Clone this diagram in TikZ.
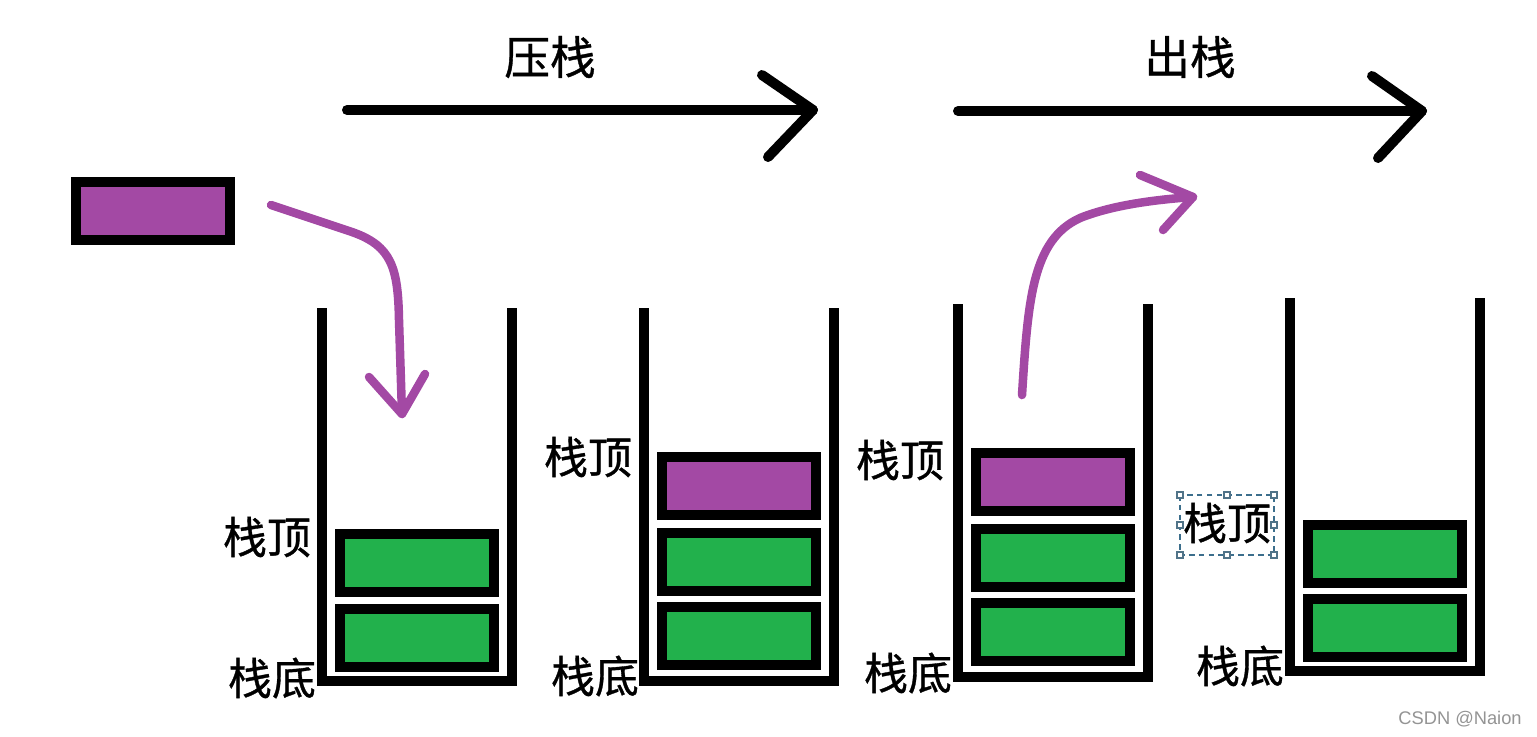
\documentclass[tikz,border=0pt]{standalone}
\usepackage{fontspec}
\newfontfamily\cjk[FakeBold=0.8]{Noto Sans CJK SC}
\setsansfont{Liberation Sans}
\definecolor{ppurple}{HTML}{A349A4}
\definecolor{pgreen}{HTML}{22B14C}
\definecolor{selblue}{HTML}{3C6E8C}
\begin{document}
\begin{tikzpicture}[x=0.01cm,y=-0.01cm,
  cell/.style={draw=black,line width=1mm,minimum width=1.54cm,minimum height=0.58cm,inner sep=0pt},
  gcell/.style={cell,fill=pgreen},
  pcell/.style={cell,fill=ppurple},
  container/.style={draw=black,line width=1mm,line join=miter},
  lbl/.style={inner sep=0pt,font=\cjk\fontsize{12.5}{14}\selectfont},
  title/.style={inner sep=0pt,font=\cjk\fontsize{13}{15}\selectfont},
  bigarrow/.style={draw=black,line width=1mm,line cap=round,line join=round},
  parrow/.style={draw=ppurple,line width=0.85mm,line cap=round,line join=round},
  handle/.style={draw=selblue!70!gray,fill=white,line width=0.3pt,minimum size=0.06cm,inner sep=0pt},
]
\useasboundingbox (0,0) rectangle (1537,736);
\fill[white] (0,0) rectangle (1537,736);

% top arrows
\coordinate (pushS) at (347,110);
\coordinate (pushE) at (813,110);
\coordinate (pushU) at (762,75);
\coordinate (pushL) at (768,157);
\draw[bigarrow] (pushS) -- (pushE);
\draw[bigarrow] (pushU) -- (pushE) -- (pushL);
\node[title] (tpush) at (550,57) {压栈};

\coordinate (popS) at (958,111);
\coordinate (popE) at (1422,111);
\coordinate (popU) at (1372,76);
\coordinate (popL) at (1378,158);
\draw[bigarrow] (popS) -- (popE);
\draw[bigarrow] (popU) -- (popE) -- (popL);
\node[title] (tpop) at (1190,57) {出栈};

% incoming element
\node[pcell] (newel) at (153,211) {};

% stack 1
\draw[container] (322,308) -- (322,681) -- (512,681) -- (512,308);
\node[gcell] (s1a) at (417,563) {};
\node[gcell] (s1b) at (417,638) {};
\node[lbl] (s1top) at (267,537) {栈顶};
\node[lbl] (s1bot) at (272,678) {栈底};

% stack 2
\draw[container] (644,308) -- (644,681) -- (834,681) -- (834,308);
\node[pcell] (s2p) at (739,486) {};
\node[gcell] (s2a) at (739,562) {};
\node[gcell] (s2b) at (739,636) {};
\node[lbl] (s2top) at (588,457) {栈顶};
\node[lbl] (s2bot) at (595,676) {栈底};

% stack 3
\draw[container] (958,304) -- (958,677) -- (1148,677) -- (1148,304);
\node[pcell] (s3p) at (1053,482) {};
\node[gcell] (s3a) at (1053,558) {};
\node[gcell] (s3b) at (1053,632) {};
\node[lbl] (s3top) at (900,460) {栈顶};
\node[lbl] (s3bot) at (908,673) {栈底};

% stack 4
\draw[container] (1290,298) -- (1290,671) -- (1480,671) -- (1480,298);
\node[gcell] (s4a) at (1385,554) {};
\node[gcell] (s4b) at (1385,628) {};
\node[lbl] (s4top) at (1227,523) {栈顶};
\node[lbl] (s4bot) at (1240,666) {栈底};

% selection frame around 栈顶 of stack 4
\draw[selblue,line width=0.35pt,dash pattern=on 1.6pt off 1.2pt] (1180,495) rectangle (1274,555);
\foreach \hx/\hy [count=\i] in {1180/495,1227/495,1274/495,1180/525,1274/525,1180/555,1227/555,1274/555}
  \node[handle] (h\i) at (\hx,\hy) {};

% purple push arrow
\coordinate (a1s) at (271,205);
\coordinate (a1e) at (402,414);
\coordinate (a1l) at (369,377);
\coordinate (a1r) at (425,374);
\draw[parrow] (a1s) -- (352,232) .. controls (392,246) and (398,268) .. (399,320) -- (a1e);
\draw[parrow] (a1l) -- (a1e) -- (a1r);

% purple pop arrow
\coordinate (a2s) at (1022,395);
\coordinate (a2e) at (1193,197);
\coordinate (a2u) at (1140,175);
\coordinate (a2d) at (1163,230);
\draw[parrow] (a2s) .. controls (1028,300) and (1032,240) .. (1080,218) .. controls (1110,206) and (1150,200) .. (a2e);
\draw[parrow] (a2u) -- (a2e) -- (a2d);

% watermark
\node[inner sep=0pt,text=black!42,font=\sffamily\fontsize{5.2}{6}\selectfont] (wm) at (1460,719) {CSDN @Naion};
\end{tikzpicture}
\end{document}
